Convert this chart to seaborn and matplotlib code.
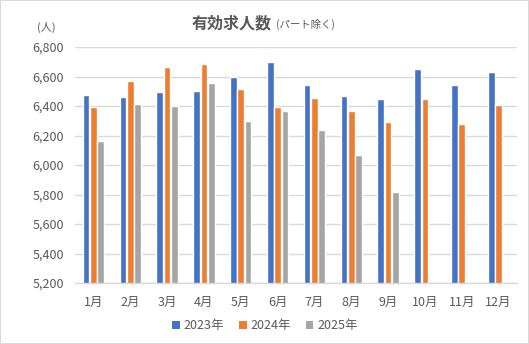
import matplotlib
matplotlib.use("Agg")
import matplotlib.pyplot as plt
import seaborn as sns
import pandas as pd
from matplotlib.ticker import FuncFormatter, MultipleLocator
from matplotlib.patches import Patch

months = ["1月", "2月", "3月", "4月", "5月", "6月", "7月", "8月", "9月", "10月", "11月", "12月"]
years = ["2023年", "2024年", "2025年"]
v2023 = [6475, 6460, 6495, 6500, 6595, 6700, 6540, 6465, 6450, 6650, 6540, 6630]
v2024 = [6395, 6570, 6665, 6685, 6515, 6390, 6455, 6365, 6290, 6445, 6280, 6405]
v2025 = [6165, 6415, 6400, 6555, 6300, 6365, 6235, 6065, 5815, None, None, None]
colors = ["#4472C4", "#ED7D31", "#A5A5A5"]

rows = []
for yr, vals in zip(years, [v2023, v2024, v2025]):
    for m, v in zip(months, vals):
        rows.append({"月": m, "年": yr, "人数": v})
df = pd.DataFrame(rows)

sns.set_theme(style="white")
plt.rcParams["font.family"] = ["Noto Sans CJK JP", "DejaVu Sans"]

text_color = "#595959"
fig = plt.figure(figsize=(5.29, 3.44), dpi=100)
fig.patch.set_facecolor("white")
fig.patch.set_edgecolor("#D9D9D9")
fig.patch.set_linewidth(1.2)

ax = fig.add_axes([75 / 529, 1 - 283 / 344, (517 - 75) / 529, (283 - 47) / 344])
sns.barplot(data=df, x="月", y="人数", hue="年", order=months, hue_order=years,
            palette=colors, width=0.6, gap=0.1, ax=ax, legend=False,
            saturation=1, errorbar=None)

ax.set_ylim(5200, 6800)
ax.set_xlim(-0.5, 11.5)
ax.yaxis.set_major_locator(MultipleLocator(200))
ax.yaxis.set_major_formatter(FuncFormatter(lambda v, p: f"{int(v):,}"))
ax.grid(axis="y", color="#D9D9D9", linewidth=1)
ax.set_axisbelow(True)
for s in ["top", "right", "left"]:
    ax.spines[s].set_visible(False)
ax.spines["bottom"].set_color("#D9D9D9")
ax.spines["bottom"].set_linewidth(1)
ax.tick_params(axis="both", length=0, labelsize=9, colors=text_color, pad=8)
ax.tick_params(axis="x", pad=9)
ax.set_xlabel("")
ax.set_ylabel("")

fig.text(192 / 529, 1 - 23 / 344, "有効求人数", fontsize=11.5, fontweight="bold",
         color=text_color, ha="left", va="center")
fig.text(276 / 529, 1 - 24 / 344, "(パート除く)", fontsize=7.5,
         color=text_color, ha="left", va="center")
fig.text(46 / 529, 1 - 27 / 344, "(人)", fontsize=8, color=text_color,
         ha="center", va="center")

handles = [Patch(facecolor=c, edgecolor="none") for c in colors]
fig.legend(handles, years, loc="center", bbox_to_anchor=(265 / 529, 1 - 326 / 344),
           ncol=3, frameon=False, fontsize=9, handlelength=0.6, handleheight=0.6,
           handletextpad=0.3, columnspacing=1.2, labelcolor=text_color)

fig.savefig("out.png", dpi=100, facecolor=fig.get_facecolor(), edgecolor=fig.get_edgecolor())
